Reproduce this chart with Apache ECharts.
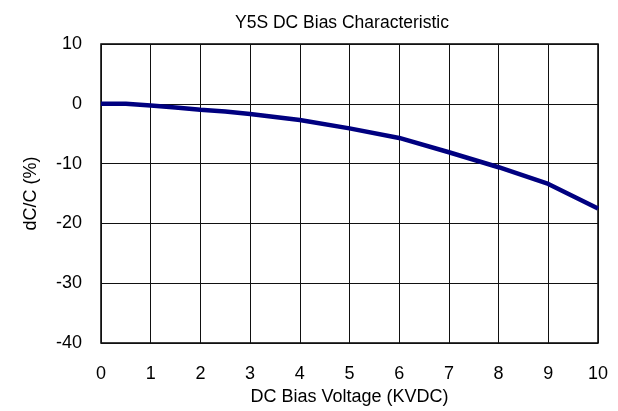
<!DOCTYPE html>
<html><head><meta charset="utf-8">
<script src="https://cdn.jsdelivr.net/npm/echarts@6/dist/echarts.min.js"></script>
<style>html,body{margin:0;padding:0;background:#fff}#c{width:618px;height:411px}</style>
</head><body><div id="c"></div>
<script>
const title = 'Y5S DC Bias Characteristic';
const xName = 'DC Bias Voltage (KVDC)';
const yName = 'dC/C (%)';
const voltage = [0, 0.5, 1, 1.5, 2, 2.5, 3, 4, 5, 6, 7, 8, 9, 10];
const dcc = [0, 0, -0.3, -0.6, -1.0, -1.3, -1.7, -2.7, -4.1, -5.7, -8.1, -10.6, -13.4, -17.5];
const font = 'Liberation Sans, Arial, sans-serif';
const chart = echarts.init(document.getElementById('c'), null, {renderer: 'canvas'});
chart.setOption({
  animation: false,
  backgroundColor: '#fff',
  title: {text: title, left: 230, top: 9, textStyle: {fontFamily: font, fontSize: 17.5, fontWeight: 'normal', color: '#000'}},
  grid: {left: 101, right: 20, top: 44, bottom: 63, show: true, borderColor: '#000', borderWidth: 1.5},
  xAxis: {
    type: 'value', min: 0, max: 10, interval: 1,
    name: xName, nameLocation: 'middle', nameGap: 41,
    nameTextStyle: {fontFamily: font, fontSize: 18, color: '#000'},
    axisLine: {show: false}, axisTick: {show: false},
    axisLabel: {margin: 22, fontFamily: font, fontSize: 18, color: '#000'},
    splitLine: {show: true, lineStyle: {color: '#111', width: 1}}
  },
  yAxis: {
    type: 'value', min: -40, max: 10, interval: 10,
    name: yName, nameLocation: 'middle', nameGap: 61, nameRotate: 90,
    nameTextStyle: {fontFamily: font, fontSize: 18, color: '#000'},
    axisLine: {show: false}, axisTick: {show: false},
    axisLabel: {margin: 19, fontFamily: font, fontSize: 18, color: '#000'},
    splitLine: {show: true, lineStyle: {color: '#111', width: 1}}
  },
  series: [{
    type: 'line', data: voltage.map((v, i) => [v, dcc[i]]),
    showSymbol: false, lineStyle: {color: '#000080', width: 4.5}
  }]
});
</script></body></html>
